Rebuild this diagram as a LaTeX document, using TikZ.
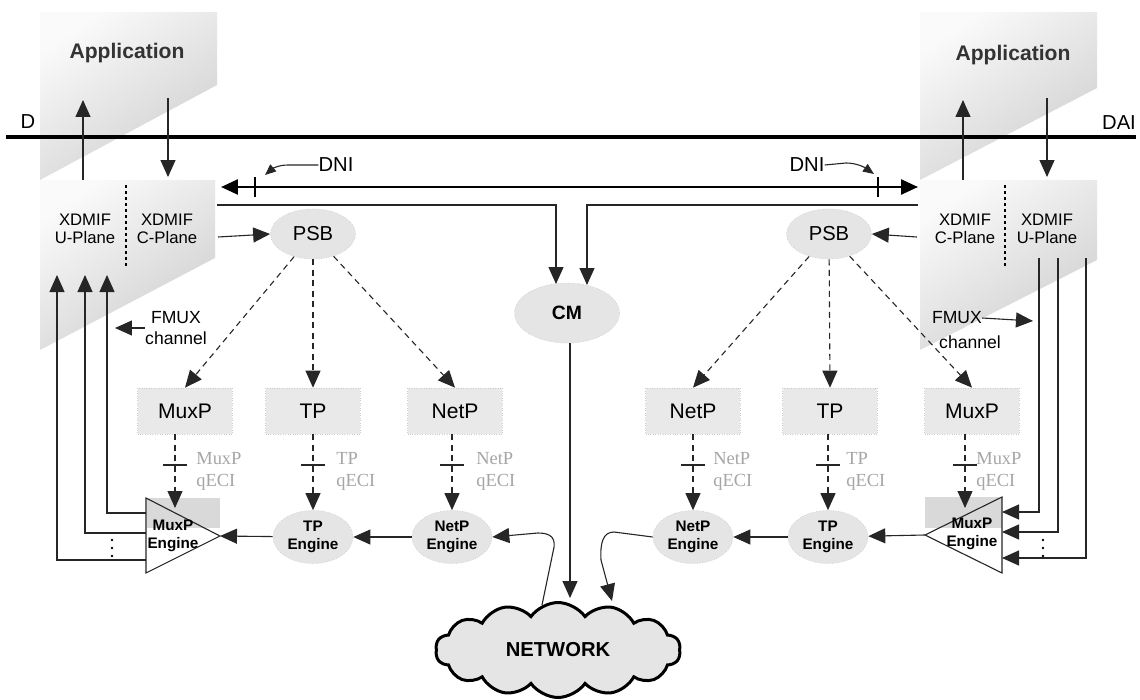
\documentclass[tikz,border=0pt]{standalone}
\usepackage{fontspec}
\setmainfont{Liberation Serif}
\setsansfont{Liberation Sans}
\usetikzlibrary{arrows.meta,shapes.geometric,shapes.symbols}

\begin{document}
\begin{tikzpicture}[x=0.02cm,y=-0.02cm,
  wire/.style={line width=0.022cm, draw=black!85},
  fwd/.style={-{Triangle[length=0.34cm,width=0.3cm]}},
  smallfwd/.style={-{Triangle[length=0.22cm,width=0.18cm]}},
  dashline/.style={dash pattern=on 0.12cm off 0.09cm},
  blockshade/.style={top color=gray!4, bottom color=gray!38, shading angle=35},
  procbox/.style={rectangle, fill=gray!17, draw=gray!40, densely dotted,
    minimum width=1.9cm, minimum height=0.92cm,
    font=\sffamily\fontsize{12}{14}\selectfont},
  blob/.style={ellipse, fill=gray!20, draw=gray!40, densely dotted, inner sep=0pt},
  enginetxt/.style={font=\sffamily\bfseries\fontsize{8.7}{10.2}\selectfont, align=center},
  qlab/.style={font=\rmfamily\fontsize{10.5}{12.5}\selectfont, text=gray!70,
    align=left, anchor=west, inner sep=0pt},
  planetxt/.style={font=\sffamily\fontsize{9.5}{10.6}\selectfont, align=center, inner sep=0pt},
  labeltxt/.style={font=\sffamily\fontsize{11.5}{13}\selectfont, inner sep=0pt},
  apptxt/.style={font=\sffamily\bfseries\fontsize{12}{14}\selectfont, text=black!80},
  fmuxtxt/.style={font=\sffamily\fontsize{10}{12}\selectfont, align=center, inner sep=0pt},
]
\useasboundingbox (0,0) rectangle (1140,700);
\fill[white] (0,0) rectangle (1140,700);

% ---------- shaded protocol blocks ----------
\shade[blockshade] (40,12) -- (217,12) -- (217,85) -- (40,180) -- cycle;
\shade[blockshade] (40,180) -- (215,180) -- (215,258) -- (40,350) -- cycle;
\shade[blockshade] (920,12) -- (1097,12) -- (1097,88) -- (920,180) -- cycle;
\shade[blockshade] (920,180) -- (1097,180) -- (1097,260) -- (920,350) -- cycle;

\node[apptxt] (appL) at (127,53) {Application};
\node[apptxt] (appR) at (1013,55) {Application};

% ---------- DAI line ----------
\coordinate (daiL) at (6,137);
\coordinate (daiR) at (1136,137);
\draw[line width=0.08cm] (daiL) -- (daiR);
\node[labeltxt] (dLab) at (28,122) {D};
\node[labeltxt] (daiLab) at (1119,123) {DAI};

% application <-> XDMIF arrows
\coordinate (upLs) at (83,180);  \coordinate (upLe) at (83,100);
\coordinate (dnLs) at (168,98);  \coordinate (dnLe) at (168,177);
\coordinate (upRs) at (963,180); \coordinate (upRe) at (963,100);
\coordinate (dnRs) at (1047,98); \coordinate (dnRe) at (1047,177);
\draw[wire,fwd] (upLs) -- (upLe);
\draw[wire,fwd] (dnLs) -- (dnLe);
\draw[wire,fwd] (upRs) -- (upRe);
\draw[wire,fwd] (dnRs) -- (dnRe);

% ---------- XDMIF planes ----------
\node[planetxt] (uplL) at (85,229) {XDMIF\\U-Plane};
\node[planetxt] (cplL) at (167,229) {XDMIF\\C-Plane};
\node[planetxt] (cplR) at (965,229) {XDMIF\\C-Plane};
\node[planetxt] (uplR) at (1047,229) {XDMIF\\U-Plane};
\draw[line width=0.05cm, dotted] (126,185) -- (126,267);
\draw[line width=0.05cm, dotted] (1005,185) -- (1005,267);

% ---------- DNI ----------
\coordinate (dniL) at (221,187);
\coordinate (dniR) at (918,187);
\draw[line width=0.05cm, {Triangle[length=0.34cm,width=0.3cm]}-{Triangle[length=0.34cm,width=0.3cm]}] (dniL) -- (dniR);
\draw[line width=0.05cm] (255,177) -- (255,197);
\draw[line width=0.05cm] (878,177) -- (878,197);
\node[labeltxt] (dniLtxt) at (336,165) {DNI};
\node[labeltxt] (dniRtxt) at (807,165) {DNI};
\coordinate (dniLtip) at (265,175);
\coordinate (dniRtip) at (874,174);
\draw[wire,smallfwd] (dniLtxt.west) -- (288,165) .. controls (278,165) and (272,169) .. (dniLtip);
\draw[wire,smallfwd] (dniRtxt.east) -- (846,163) .. controls (856,163) and (864,167) .. (dniRtip);

% ---------- PSB and CM ----------
\node[blob, minimum width=1.7cm, minimum height=1cm, font=\sffamily\fontsize{11.5}{13}\selectfont] (psbL) at (313,234) {PSB};
\node[blob, minimum width=1.7cm, minimum height=1cm, font=\sffamily\fontsize{11.5}{13}\selectfont] (psbR) at (829,234) {PSB};
\node[blob, minimum width=2.1cm, minimum height=1.2cm, font=\sffamily\bfseries\fontsize{11}{13}\selectfont] (cm) at (567,313) {CM};

\coordinate (cpLout) at (218,237);
\coordinate (cpRout) at (917,237);
\draw[wire,fwd] (cpLout) -- (psbL.west);
\draw[wire,fwd] (cpRout) -- (psbR.east);

\coordinate (cmLsrc) at (217,205);
\coordinate (cmLin) at (556,284);
\coordinate (cmRsrc) at (918,205);
\coordinate (cmRin) at (587,285);
\draw[wire,fwd] (cmLsrc) -| (cmLin);
\draw[wire,fwd] (cmRsrc) -| (cmRin);

% ---------- protocol boxes ----------
\node[procbox] (muxL) at (185,411) {MuxP};
\node[procbox] (tpL)  at (313,411) {TP};
\node[procbox] (netL) at (455,411) {NetP};
\node[procbox] (netR) at (693,411) {NetP};
\node[procbox] (tpR)  at (830,411) {TP};
\node[procbox] (muxR) at (972,411) {MuxP};

\draw[wire,dashline,fwd] (psbL) -- (muxL.north);
\draw[wire,dashline,fwd] (psbL) -- (tpL.north);
\draw[wire,dashline,fwd] (psbL) -- (netL.north);
\draw[wire,dashline,fwd] (psbR) -- (netR.north);
\draw[wire,dashline,fwd] (psbR) -- (tpR.north);
\draw[wire,dashline,fwd] (psbR) -- (muxR.north);

% FMUX channel labels
\node[fmuxtxt] (fmuxL) at (176,328) {FMUX\\channel};
\coordinate (fmuxLtip) at (115,328);
\draw[wire,fwd] (fmuxL.west) -- (fmuxLtip);
\node[fmuxtxt] (fmuxR1) at (957,318) {FMUX};
\node[fmuxtxt] (fmuxR2) at (970,342) {channel};
\coordinate (fmuxRtip) at (1033,321);
\draw[wire,fwd] (fmuxR1.east) -- (fmuxRtip);

% ---------- engines ----------
\fill[gray!30] (147,498) rectangle (220,528);
\fill[gray!30] (925,497) rectangle (1002,528);
\coordinate (mxLa) at (146,498);
\coordinate (mxLb) at (146,573);
\coordinate (mxLapex) at (220,536);
\coordinate (mxRa) at (1002,497);
\coordinate (mxRb) at (1002,573);
\coordinate (mxRapex) at (925,535);
\draw[wire] (mxLa) -- (mxLapex) -- (mxLb) -- cycle;
\draw[wire] (mxRa) -- (mxRapex) -- (mxRb) -- cycle;
\node[enginetxt] (mxeL) at (173,536) {MuxP\\Engine};
\node[enginetxt] (mxeR) at (972,534) {MuxP\\Engine};

\node[blob, minimum width=1.6cm, minimum height=1.06cm, enginetxt] (tpeL)  at (313,537) {TP\\Engine};
\node[blob, minimum width=1.6cm, minimum height=1.06cm, enginetxt] (neteL) at (452,537) {NetP\\Engine};
\node[blob, minimum width=1.6cm, minimum height=1.06cm, enginetxt] (neteR) at (693,537) {NetP\\Engine};
\node[blob, minimum width=1.6cm, minimum height=1.06cm, enginetxt] (tpeR)  at (828,537) {TP\\Engine};

% qECI connections
\coordinate (qmxL) at (175,508);
\coordinate (qmxR) at (965,508);
\draw[wire,dashline,fwd] (qmxL |- muxL.south) -- (qmxL);
\draw[wire,dashline,fwd] (tpeL |- tpL.south) -- (tpeL.north);
\draw[wire,dashline,fwd] (neteL |- netL.south) -- (neteL.north);
\draw[wire,dashline,fwd] (neteR |- netR.south) -- (neteR.north);
\draw[wire,dashline,fwd] (tpeR |- tpR.south) -- (tpeR.north);
\draw[wire,dashline,fwd] (qmxR |- muxR.south) -- (qmxR);
\foreach \qx in {175,313,452,693,828,965}
  \draw[wire] (\qx-12,465) -- (\qx+12,465);
\node[qlab] (qlMuxL) at (196,471) {MuxP\\qECI};
\node[qlab] (qlTpL)  at (336,471) {TP\\qECI};
\node[qlab] (qlNetL) at (476,471) {NetP\\qECI};
\node[qlab] (qlNetR) at (713,471) {NetP\\qECI};
\node[qlab] (qlTpR)  at (846,471) {TP\\qECI};
\node[qlab] (qlMuxR) at (976,471) {MuxP\\qECI};

% engine chain
\draw[wire,fwd] (neteL) -- (tpeL);
\draw[wire,fwd] (tpeL) -- (mxLapex);
\draw[wire,fwd] (mxRapex) -- (tpeR);
\draw[wire,fwd] (tpeR) -- (neteR);

% demultiplexed user channels up to the U-plane (left)
\coordinate (uL1) at (107,275);
\coordinate (uL2) at (85,275);
\coordinate (uL3) at (57,275);
\draw[wire,fwd] (146,513) -- (107,513) -- (uL1);
\draw[wire,fwd] (146,533) -- (85,533) -- (uL2);
\draw[wire,fwd] (146,560) -- (57,560) -- (uL3);
\foreach \dy in {540,548,556} \fill (112,\dy) circle (1.3);

% user channels from the U-plane into the multiplexer (right)
\coordinate (uR1) at (1039,258);
\coordinate (uR2) at (1058,258);
\coordinate (uR3) at (1086,258);
\draw[wire,fwd] (uR1) -- (1039,512) -- (1002,512);
\draw[wire,fwd] (uR2) -- (1058,532) -- (1002,532);
\draw[wire,fwd] (uR3) -- (1086,558) -- (1002,558);
\foreach \dy in {540,548,556} \fill (1043,\dy) circle (1.3);

% ---------- network ----------
\node[cloud, cloud puffs=14, cloud puff arc=110, aspect=2.7, draw, line width=0.06cm,
  fill=gray!20, minimum width=4.9cm, minimum height=1.9cm,
  font=\sffamily\bfseries\fontsize{11.5}{13}\selectfont] (net) at (558,650) {NETWORK};

\coordinate (cmDown) at (570,598);
\draw[wire,fwd] (cm.south -| cmDown) -- (cmDown);

\coordinate (netUpL) at (542,605);
\draw[wire,fwd] (netUpL) -- (553,552) .. controls (557,538) and (551,533) .. (538,533) -- (neteL.east);
\coordinate (netInR) at (612,601);
\draw[wire,fwd] (neteR.west) -- (614,532) .. controls (603,532) and (600,543) .. (601,560) -- (netInR);

\end{tikzpicture}
\end{document}
